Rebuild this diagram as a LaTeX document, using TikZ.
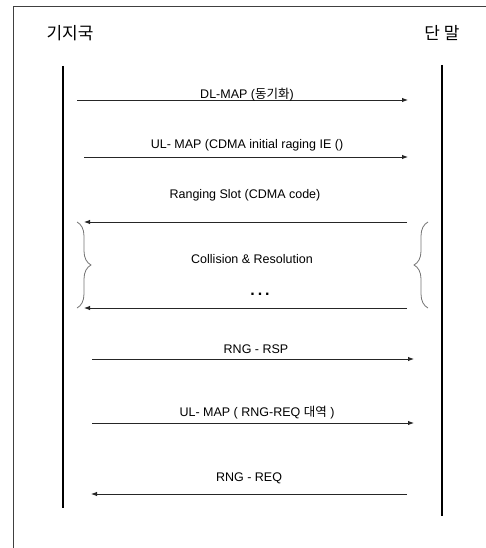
\documentclass[tikz,border=0pt]{standalone}
\usepackage{fontspec}
\setmainfont{Liberation Sans}
\newfontfamily\kr{Noto Sans CJK KR}
\usetikzlibrary{arrows.meta,decorations.pathreplacing}

\begin{document}
\begin{tikzpicture}[x=1pt,y=-1pt,>={Latex[length=6pt,width=4.5pt]},
    msg/.style={->,line width=0.9pt,black!85},
    life/.style={line width=2pt},
    lbl/.style={font=\fontsize{12.5}{14}\selectfont,inner sep=0pt},
    ttl/.style={font=\kr\fontsize{17}{19}\selectfont,inner sep=0pt},
    grp/.style={decorate,decoration={brace,amplitude=14pt},black!55,line width=0.8pt}]
      \useasboundingbox (0,0) rectangle (486,548);
      \draw[black!75] (486,6) -- (13,6) -- (13,548);
      % actors and lifelines
      \node[ttl] (bs) at (70,33) {기지국};
      \node[ttl] (ms) at (442,33) {단 말};
      \coordinate (bs-top) at (63,66);
      \coordinate (bs-bot) at (63,508);
      \coordinate (ms-top) at (442,65);
      \coordinate (ms-bot) at (442,516);
      \draw[life] (bs-top) -- (bs-bot);
      \draw[life] (ms-top) -- (ms-bot);
      % messages
      \coordinate (dl-a) at (77,100);   \coordinate (dl-b) at (408,100);
      \coordinate (ul-a) at (84,157);   \coordinate (ul-b) at (408,157);
      \coordinate (rs-a) at (407,222);  \coordinate (rs-b) at (84,222);
      \coordinate (cr-a) at (407,308);  \coordinate (cr-b) at (84,308);
      \coordinate (rsp-a) at (92,359); \coordinate (rsp-b) at (414,359);
      \coordinate (ulr-a) at (92,423); \coordinate (ulr-b) at (414,423);
      \coordinate (req-a) at (407,494); \coordinate (req-b) at (91,494);
      \draw[msg] (dl-a) -- (dl-b);
      \draw[msg] (ul-a) -- (ul-b);
      \draw[msg] (rs-a) -- (rs-b);
      \draw[msg] (cr-a) -- (cr-b);
      \draw[msg] (rsp-a) -- (rsp-b);
      \draw[msg] (ulr-a) -- (ulr-b);
      \draw[msg] (req-a) -- (req-b);
      \node[lbl] (dl) at (247,95) {DL-MAP ({\kr 동기화})};
      \node[lbl] (ul) at (247,145) {UL- MAP (CDMA initial raging IE ()};
      \node[lbl] (rs) at (245,195) {Ranging Slot (CDMA code)};
      \node[lbl] (cr) at (252,259) {Collision \& Resolution};
      \node[lbl,font=\fontsize{16}{18}\selectfont\bfseries] (dots) at (260,294) {.\hspace{3pt}.\hspace{3pt}.};
      \node[lbl] (rsp) at (256,349) {RNG - RSP};
      \node[lbl] (ulr) at (257,413) {UL- MAP ( RNG-REQ {\kr 대역} )};
      \node[lbl] (req) at (249,478) {RNG - REQ};
      % collision braces
      \coordinate (gl-a) at (77,222); \coordinate (gl-b) at (77,308);
      \coordinate (gr-a) at (428,308); \coordinate (gr-b) at (428,222);
      \draw[grp] (gl-a) -- (gl-b);
      \draw[grp] (gr-a) -- (gr-b);
    \end{tikzpicture}
\end{document}
